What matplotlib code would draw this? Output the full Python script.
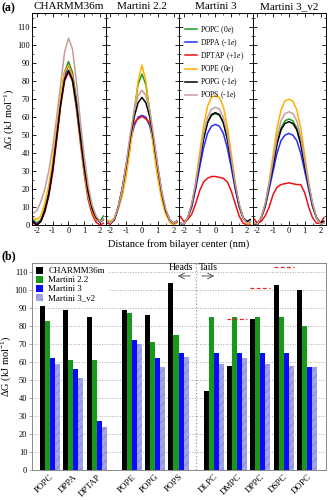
import numpy as np
import matplotlib
matplotlib.use("Agg")
from matplotlib import pyplot as plt
from matplotlib.ticker import MultipleLocator

plt.rcParams["font.family"] = ["Liberation Serif", "DejaVu Serif"]
plt.rcParams["mathtext.fontset"] = "custom"
plt.rcParams["mathtext.rm"] = "Liberation Serif"
plt.rcParams["mathtext.it"] = "Liberation Serif:italic"
plt.rcParams["hatch.linewidth"] = 0.6

# ---- panel (a): free energy profiles ----
dist = [-2.25, -2.0, -1.75, -1.5, -1.25, -1.0, -0.75, -0.5, -0.25, 0.0,
        0.25, 0.5, 0.75, 1.0, 1.25, 1.5, 1.75, 2.0, 2.2]

lipids = ["POPC", "DPPA", "DPTAP", "POPE", "POPG", "POPS"]
lipid_labels = ["POPC (0$e$)", "DPPA (-1$e$)", "DPTAP (+1$e$)",
                "POPE (0$e$)", "POPG (-1$e$)", "POPS (-1$e$)"]
models = ["CHARMM36m", "Martini 2.2", "Martini 3", "Martini 3_v2"]

charmm = {
    "POPC": [3, 1, 3, 9, 18, 32, 50, 70, 85, 91, 85, 70, 51, 33, 19, 9, 4, 2, 5],
    "DPPA": [2, 0.5, 2, 8, 17, 31, 49, 68, 83, 89, 83, 68, 49, 31, 17, 8, 3, 1.5, 3],
    "DPTAP": [1, 0, 2, 7, 16, 29, 47, 66, 80, 85, 80, 65, 46, 28, 14, 6, 1.5, 0, 1],
    "POPE": [4, 3, 5, 12, 22, 36, 54, 72, 85, 89, 83, 67, 48, 30, 16, 8, 3, 2, 3],
    "POPG": [2, 0, 2, 8, 17, 31, 49, 67, 81, 86, 81, 67, 49, 32, 18, 9, 4, 2, 3],
    "POPS": [6.5, 8, 13, 20, 30, 43, 60, 78, 96, 104, 98, 80, 58, 38, 22, 11, 5, 2, 3],
}
martini22 = {
    "POPC": [2, 1, 3, 9, 18, 31, 47, 63, 78, 84, 78, 63, 46, 30, 17, 8, 3, 0.5, 2],
    "DPPA": [2, 1, 3, 10, 20, 33, 46, 55, 60, 61, 60, 55, 45, 31, 18, 8, 3, 0.5, 2],
    "DPTAP": [1, 0.5, 3, 10, 20, 33, 47, 57, 59, 60.5, 59, 57, 47, 31, 17, 7, 2, 0, 1.5],
    "POPE": [3, 2, 4, 9, 16, 27, 42, 60, 80, 89, 80, 60, 41, 26, 14, 6, 2, 0, 1],
    "POPG": [2, 1, 3, 10, 20, 33, 48, 60, 68, 71, 68, 60, 47, 32, 18, 8, 3, 1, 2],
    "POPS": [2, 1, 3.5, 10, 20, 34, 50, 63, 72, 75, 72, 63, 49, 33, 19, 9, 3, 1, 2],
}
martini3 = {
    "POPC": [1, 0.5, 4, 11, 22, 35, 48, 57, 61, 62, 61, 57, 48, 35, 22, 11, 4, 1, 2],
    "DPPA": [1, 0.5, 4, 10, 20, 32, 43, 51, 55, 56, 55, 51, 43, 32, 20, 10, 4, 1.5, 2],
    "DPTAP": [5, 2, 3, 6, 12, 19, 24, 26, 27, 27, 26.5, 26, 24, 19, 12, 5, 1, 0, 0],
    "POPE": [1, 0.5, 4, 11, 24, 40, 55, 66, 71, 72, 71, 66, 55, 40, 24, 11, 4, 0.5, 1],
    "POPG": [1, 0.5, 4, 11, 22, 35, 48, 57, 61.5, 62.5, 61.5, 57, 48, 35, 22, 11, 4, 2, 3],
    "POPS": [1, 0.5, 4, 12, 23, 37, 51, 60, 64.5, 65.5, 64.5, 60, 51, 37, 23, 12, 4, 1, 2],
}
martini3_v2 = {
    "POPC": [1, 0.5, 4, 11, 22, 34, 46, 54, 58, 59, 58, 54, 46, 34, 22, 11, 4, 0.5, 1],
    "DPPA": [1, 0.5, 4, 10, 20, 30, 40, 47, 50, 51, 50, 47, 40, 30, 20, 10, 4, 1, 2],
    "DPTAP": [4, 1, 2, 5, 10, 17, 21, 22.5, 23, 23.5, 23, 22.5, 22.5, 18, 10, 4, 1, 1, 4],
    "POPE": [1, 0.5, 4, 11, 24, 39, 54, 64, 69, 70, 69, 64, 54, 39, 24, 11, 4, 0.5, 1],
    "POPG": [1, 0, 4, 11, 22, 33, 45, 53, 56.5, 57.5, 56.5, 53, 45, 33, 22, 11, 4, 1, 2],
    "POPS": [1, 0.5, 4, 12, 23, 36, 49, 58, 62, 63, 62, 58, 49, 36, 23, 12, 4, 0.5, 1],
}
profiles = [charmm, martini22, martini3, martini3_v2]

line_colors = {"POPC": "#1f9a1f", "DPPA": "#2b2bff", "DPTAP": "#ee1111",
               "POPE": "#ffb000", "POPG": "#000000", "POPS": "#c89c9c"}

# ---- panel (b): barrier heights ----
bar_lipids = ["POPC", "DPPA", "DPTAP", "POPE", "POPG", "POPS",
              "DLPC", "DMPC", "DPPC", "DSPC", "DOPC"]
bar_pos = [0, 1, 2, 3.5, 4.5, 5.5, 7, 8, 9, 10, 11]
dg_charmm = [91, 89, 85, 89, 86, 104, 44, 58, 84, 103, 100]
dg_m22 = [83, 61, 61, 87, 71, 75, 85, 85, 85, 85, 80]
dg_m3 = [62, 56, 27, 72, 62, 65, 65, 65, 65, 65, 57]
dg_m3v2 = [59, 51, 24, 70, 57, 63, 59, 62, 59, 58, 57]
# experimental reference values (red dashed), lipid index -> value
exp_idx = [7, 8, 9]
exp_val = [84, 101, 113]

fig = plt.figure(figsize=(3.28, 5.0), dpi=100)

# panel (a)
left, right = 0.098, 0.994
pw = (right - left) / 4
for i, (name, prof) in enumerate(zip(models, profiles)):
    ax = fig.add_axes([left + i * pw, 0.55, pw, 0.424])
    for lip, lab in zip(lipids, lipid_labels):
        ax.plot(dist, prof[lip], color=line_colors[lip], lw=1.1, label=lab)
    ax.set_xlim(-2.3, 2.35)
    ax.set_ylim(0, 118)
    ax.xaxis.set_major_locator(MultipleLocator(1))
    ax.xaxis.set_minor_locator(MultipleLocator(0.5))
    ax.yaxis.set_major_locator(MultipleLocator(10))
    ax.yaxis.set_minor_locator(MultipleLocator(5))
    ax.tick_params(which="both", direction="in", top=True, right=True,
                   labelsize=6, pad=1.5)
    ax.tick_params(which="major", length=3, width=0.6)
    ax.tick_params(which="minor", length=1.5, width=0.5)
    ax.set_xticks([-2, -1, 0, 1, 2])
    ax.set_xticklabels(["-2", "-1", "0", "1", "2"])
    for s in ax.spines.values():
        s.set_linewidth(0.7)
    if i > 0:
        ax.set_yticklabels([])
    else:
        ax.set_ylabel("ΔG (kJ mol$^{-1}$)", fontsize=7.5, labelpad=1)
    ax.set_title(name, fontsize=8, pad=3)
    if i == 2:
        ax.legend(loc="upper left", bbox_to_anchor=(0.02, 0.97), fontsize=5.5,
                  frameon=False, handlelength=1.5, labelspacing=0.2,
                  handletextpad=0.5, borderaxespad=0.2)
fig.text(0.546, 0.512, "Distance from bilayer center (nm)", ha="center",
         va="center", fontsize=7.5)
fig.text(0.005, 0.995, "(a)", fontsize=8.5, fontweight="bold", va="top")

# panel (b)
ax = fig.add_axes([0.098, 0.06, 0.896, 0.414])
w = 0.215
pos = np.array(bar_pos)
ax.bar(pos - 1.5 * w, dg_charmm, w, color="black", label="CHARMM36m", zorder=3)
ax.bar(pos - 0.5 * w, dg_m22, w, color="#17991a", label="Martini 2.2", zorder=3)
ax.bar(pos + 0.5 * w, dg_m3, w, color="#0a0aff", label="Martini 3", zorder=3)
ax.bar(pos + 1.5 * w, dg_m3v2, w, color="#a3a3e8", edgecolor="#8585d2",
       hatch="////", linewidth=0, label="Martini 3_v2", zorder=3)
for k, v in zip(exp_idx, exp_val):
    ax.plot([bar_pos[k] - 2 * w, bar_pos[k] + 2 * w], [v, v], color="#ee2222",
            ls=(0, (3, 2)), lw=0.9, zorder=3)
ax.axvline(6.25, color="#999999", ls=":", lw=0.9, zorder=2)
ax.text(6.12, 112.3, "Heads", ha="right", va="center", fontsize=7)
ax.text(6.38, 112.3, "Tails", ha="left", va="center", fontsize=7)
ax.annotate("", xy=(5.35, 107.8), xytext=(6.12, 107.8),
            arrowprops=dict(arrowstyle="->", color="#555555", lw=0.7))
ax.annotate("", xy=(7.15, 107.8), xytext=(6.38, 107.8),
            arrowprops=dict(arrowstyle="->", color="#555555", lw=0.7))
ax.set_xlim(-0.76, 11.81)
ax.set_ylim(0, 115)
ax.yaxis.set_major_locator(MultipleLocator(10))
ax.grid(axis="y", color="#aaaaaa", ls=":", lw=0.7, zorder=0)
ax.set_xticks(bar_pos)
ax.set_xticklabels(bar_lipids, rotation=45, ha="right", rotation_mode="anchor",
                   fontsize=6.5)
ax.tick_params(axis="x", length=0, pad=2)
ax.tick_params(axis="y", labelsize=6, length=2, width=0.5, color="#888888",
               pad=1.5)
for s in ax.spines.values():
    s.set_color("#888888")
    s.set_linewidth(0.7)
ax.set_ylabel("ΔG (kJ mol$^{-1}$)", fontsize=7.5, labelpad=1)
leg = ax.legend(loc="upper left", fontsize=6.5, handlelength=0.8,
                handleheight=0.8, labelspacing=0.05, handletextpad=0.6,
                borderaxespad=0.2, borderpad=0.2, framealpha=1,
                edgecolor="white", fancybox=False)
leg.set_zorder(5)
fig.text(0.005, 0.499, "(b)", fontsize=8.5, fontweight="bold", va="top")

fig.savefig("out.png", dpi=100)
